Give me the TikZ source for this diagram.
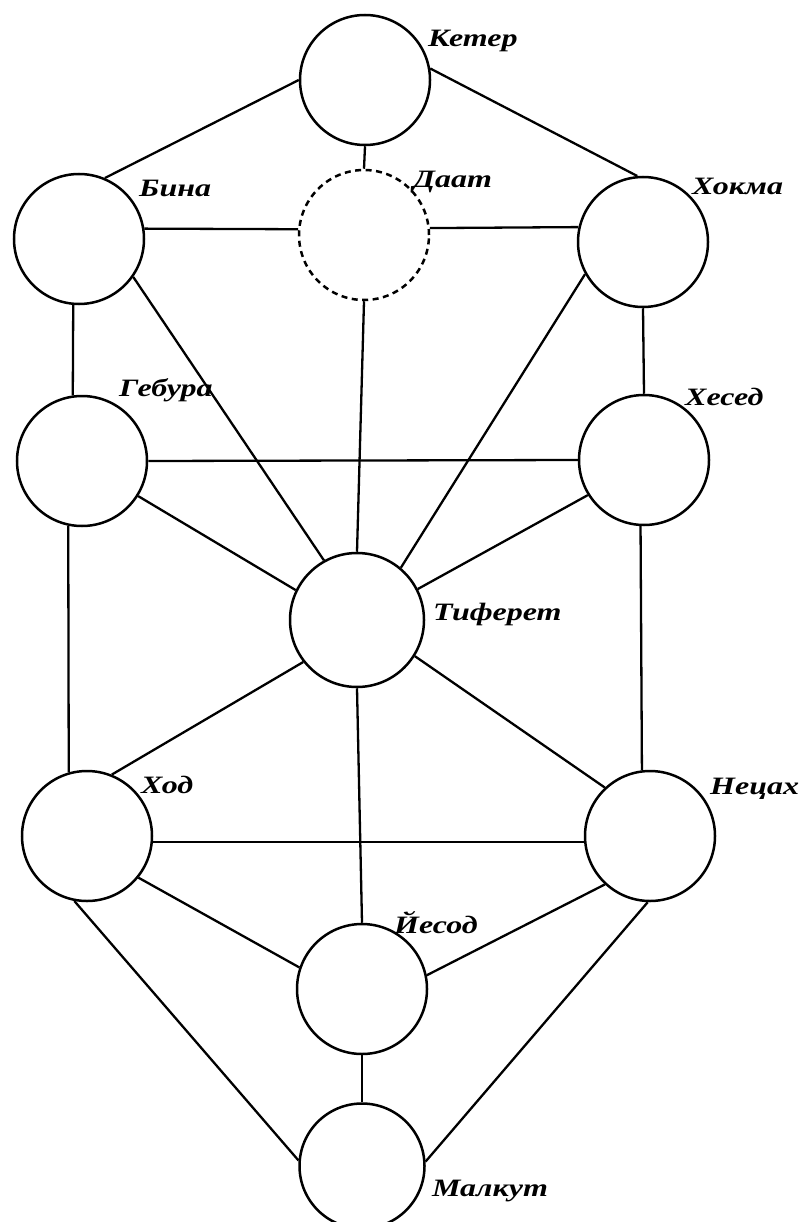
\documentclass[tikz,border=0pt]{standalone}
\usepackage{fontspec}
\newfontfamily\lblfont[FakeStretch=1.28]{Liberation Serif}
\begin{document}
\begin{tikzpicture}[x=1pt,y=-1pt,
  sefira/.style={circle,draw=black,line width=2.5pt,minimum size=130pt,inner sep=0pt},
  hidden/.style={sefira,dashed,dash pattern=on 6pt off 4.5pt},
  path/.style={line width=2.3pt},
  lbl/.style={anchor=base west,inner sep=0pt,font=\lblfont\bfseries\itshape\fontsize{25}{27}\selectfont}]
\useasboundingbox (0,0) rectangle (803,1222);
% sefirot
\node[sefira] (keter) at (365,80) {};
\node[sefira] (bina) at (79,239) {};
\node[hidden] (daat) at (364,235) {};
\node[sefira] (hokma) at (643,242) {};
\node[sefira] (gebura) at (82,461) {};
\node[sefira] (hesed) at (644,460) {};
\node[sefira,minimum size=134pt] (tiferet) at (357,620) {};
\node[sefira] (hod) at (87,836) {};
\node[sefira] (netzah) at (650,836) {};
\node[sefira] (yesod) at (362,989) {};
\node[sefira,minimum size=125pt] (malkut) at (362,1166) {};
% labels
\node[lbl] (lketer) at (428,47) {Кетер};
\node[lbl] (lbina) at (139,197) {Бина};
\node[lbl] (ldaat) at (413,188) {Даат};
\node[lbl] (lhokma) at (692,195) {Хокма};
\node[lbl] (lgebura) at (119,396) {Гебура};
\node[lbl] (lhesed) at (685,405) {Хесед};
\node[lbl] (ltiferet) at (433,620) {Тиферет};
\node[lbl] (lhod) at (141,793) {Ход};
\node[lbl] (lnetzah) at (710,794) {Нецах};
\node[lbl] (lyesod) at (394,933) {Йесод};
\node[lbl] (lmalkut) at (432,1196) {Малкут};
% paths
\draw[path] (keter.180) -- (bina.67);
\draw[path] (keter.10) -- (hokma.95);
\draw[path] (keter.south) -- (daat.north);
\draw[path] (bina.9) -- (daat.175);
\draw[path] (daat.6) -- (hokma.167);
\draw[path] (bina.265) -- (gebura.98);
\draw[path] (bina.-35) -- (tiferet.119);
\draw[path] (daat.south) -- (tiferet.north);
\draw[path] (hokma.209) -- (tiferet.50);
\draw[path] (hokma.south) -- (hesed.north);
\draw[path] (gebura.east) -- (hesed.west);
\draw[path] (gebura.-32) -- (tiferet.154);
\draw[path] (hesed.212) -- (tiferet.27);
\draw[path] (gebura.258) -- (hod.106);
\draw[path] (hesed.267) -- (netzah.97);
\draw[path] (tiferet.218) -- (hod.68);
\draw[path] (tiferet.-32) -- (netzah.133);
\draw[path] (tiferet.south) -- (yesod.north);
\draw[path] (hod.-5) -- (netzah.185);
\draw[path] (hod.-39) -- (yesod.161);
\draw[path] (netzah.227) -- (yesod.12);
\draw[path] (hod.259) -- (malkut.175);
\draw[path] (netzah.268) -- (malkut.4);
\draw[path] (yesod.south) -- (malkut.north);
\end{tikzpicture}
\end{document}
